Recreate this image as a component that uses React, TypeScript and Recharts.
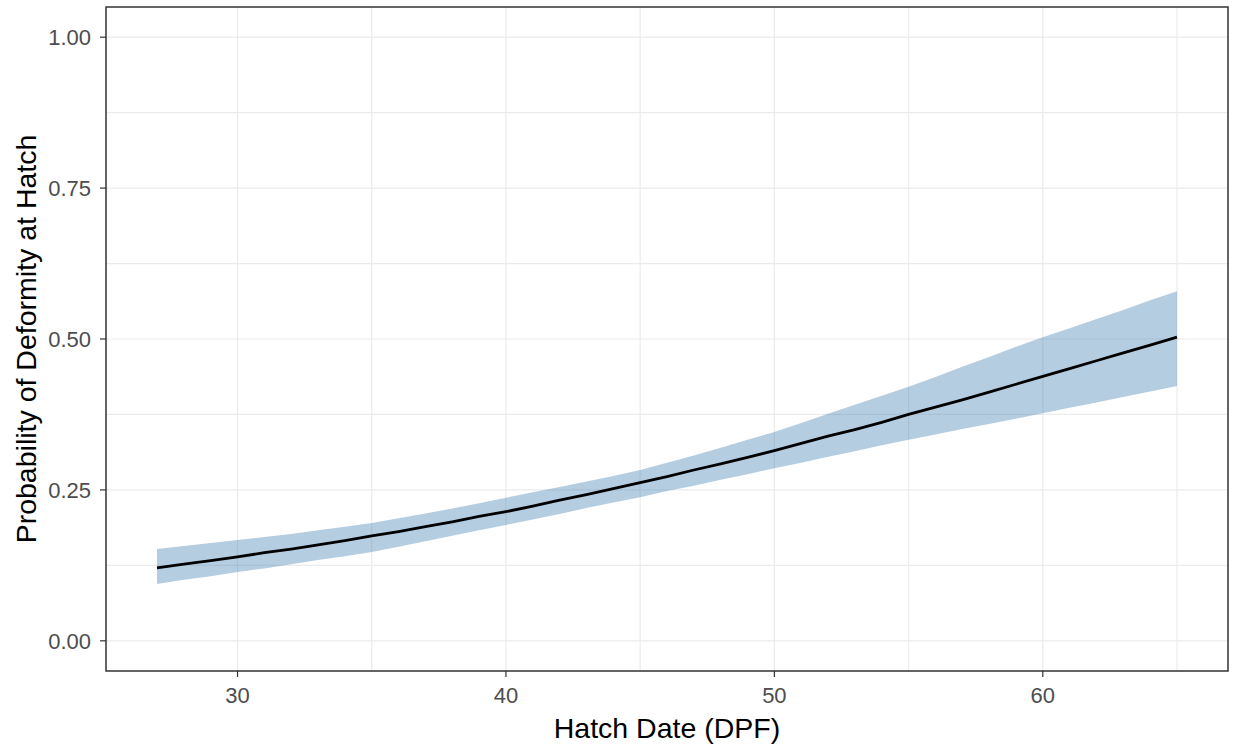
import {
  Area,
  CartesianGrid,
  ComposedChart,
  Line,
  ReferenceArea,
  XAxis,
  YAxis,
} from "recharts";

const dpf = [
  27, 28, 29, 30, 31, 32, 33, 34, 35, 36, 37, 38, 39, 40, 41, 42, 43, 44, 45,
  46, 47, 48, 49, 50, 51, 52, 53, 54, 55, 56, 57, 58, 59, 60, 61, 62, 63, 64, 65,
];

const fit = [
  0.121, 0.127, 0.133, 0.139, 0.146, 0.152, 0.159, 0.166, 0.174, 0.181, 0.189,
  0.197, 0.206, 0.214, 0.223, 0.233, 0.242, 0.252, 0.262, 0.272, 0.283, 0.293,
  0.304, 0.315, 0.327, 0.339, 0.35, 0.362, 0.375, 0.387, 0.399, 0.412, 0.425,
  0.438, 0.451, 0.464, 0.477, 0.49, 0.503,
];

const upper = [
  0.152, 0.157, 0.162, 0.167, 0.172, 0.177, 0.183, 0.189, 0.195, 0.203, 0.211,
  0.219, 0.228, 0.237, 0.246, 0.255, 0.264, 0.273, 0.283, 0.295, 0.307, 0.32,
  0.333, 0.346, 0.361, 0.376, 0.391, 0.406, 0.421, 0.437, 0.454, 0.47, 0.487,
  0.503, 0.518, 0.533, 0.548, 0.564, 0.579,
];

const lower = [
  0.094, 0.101, 0.107, 0.114, 0.12, 0.127, 0.134, 0.14, 0.147, 0.156, 0.165,
  0.174, 0.183, 0.192, 0.201, 0.21, 0.22, 0.229, 0.238, 0.248, 0.257, 0.267,
  0.276, 0.286, 0.295, 0.305, 0.314, 0.324, 0.333, 0.342, 0.351, 0.359, 0.368,
  0.377, 0.386, 0.395, 0.404, 0.413, 0.422,
];

const xTicks = [30, 40, 50, 60];
const yTicks = [0, 0.25, 0.5, 0.75, 1];
const xGrid = [30, 35, 40, 45, 50, 55, 60, 65];
const yGrid = [0, 0.125, 0.25, 0.375, 0.5, 0.625, 0.75, 0.875, 1];

const xDomain: [number, number] = [25.1, 66.9];
const yDomain: [number, number] = [-0.05, 1.05];

const data = dpf.map((d, i) => ({
  dpf: d,
  fit: fit[i],
  band: [lower[i], upper[i]],
}));

const font = "'Liberation Sans', Arial, sans-serif";
const tickStyle = { fill: "#4d4d4d", fontSize: 22, fontFamily: font };
const titleStyle = { fill: "#000", fontSize: 28.5, fontFamily: font };

export default function App() {
  return (
    <div style={{ position: "absolute", left: 0, top: 0, background: "#fff" }}>
      <ComposedChart
        width={1233}
        height={748}
        data={data}
        margin={{ top: 7, right: 5, left: 0, bottom: 0 }}
      >
        <CartesianGrid
          stroke="#ebebeb"
          strokeWidth={1.2}
          verticalValues={xGrid}
          horizontalValues={yGrid}
        />
        <XAxis
          dataKey="dpf"
          type="number"
          domain={xDomain}
          ticks={xTicks}
          allowDataOverflow
          height={77}
          axisLine={false}
          tickLine={{ stroke: "#333", strokeWidth: 1.2 }}
          tickSize={6}
          tickMargin={10}
          tick={tickStyle}
          label={{
            value: "Hatch Date (DPF)",
            position: "insideBottom",
            offset: 10,
            style: titleStyle,
          }}
        />
        <YAxis
          type="number"
          domain={yDomain}
          ticks={yTicks}
          allowDataOverflow
          width={106}
          axisLine={false}
          tickLine={{ stroke: "#333", strokeWidth: 1.2 }}
          tickSize={6}
          tickMargin={9}
          tick={tickStyle}
          tickFormatter={(v: number) => v.toFixed(2)}
          label={{
            value: "Probability of Deformity at Hatch",
            angle: -90,
            position: "insideLeft",
            offset: 26,
            style: { ...titleStyle, textAnchor: "middle" },
          }}
        />
        <Area
          dataKey="band"
          type="linear"
          stroke="none"
          fill="#4682b4"
          fillOpacity={0.4}
          isAnimationActive={false}
        />
        <Line
          dataKey="fit"
          type="linear"
          stroke="#000"
          strokeWidth={2.8}
          dot={false}
          activeDot={false}
          isAnimationActive={false}
        />
        <ReferenceArea
          x1={xDomain[0]}
          x2={xDomain[1]}
          y1={yDomain[0]}
          y2={yDomain[1]}
          fill="none"
          stroke="#333"
          strokeWidth={1.5}
          ifOverflow="visible"
        />
      </ComposedChart>
    </div>
  );
}
